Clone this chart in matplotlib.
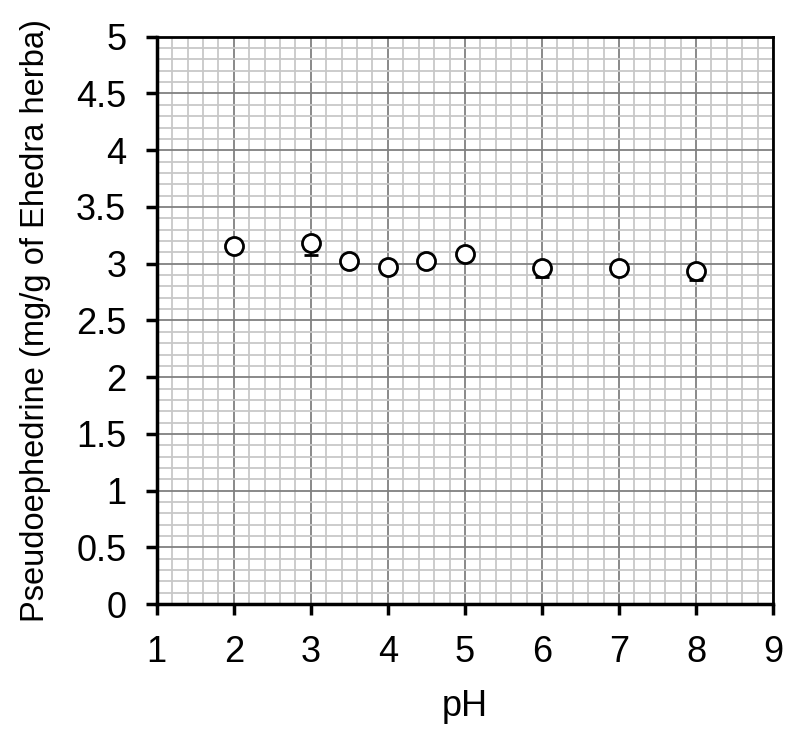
import matplotlib
matplotlib.use('Agg')
import matplotlib.pyplot as plt
from matplotlib.ticker import MultipleLocator

# Data
ph = [2, 3, 3.5, 4, 4.5, 5, 6, 7, 8]
pseudo = [3.16, 3.18, 3.02, 2.97, 3.02, 3.09, 2.96, 2.96, 2.94]
err_low = [0.03, 0.10, 0.05, 0.03, 0.05, 0.06, 0.08, 0.03, 0.08]
err_high = [0, 0, 0, 0, 0, 0, 0, 0, 0]

yticks = [0, 0.5, 1, 1.5, 2, 2.5, 3, 3.5, 4, 4.5, 5]
ytick_labels = ['0', '0.5', '1', '1.5', '2', '2.5', '3', '3.5', '4', '4.5', '5']

plt.rcParams['font.family'] = ['Liberation Sans', 'DejaVu Sans']

fig = plt.figure(figsize=(7.88, 7.35), dpi=100)
ax = fig.add_axes([0.199, 0.178, 0.782, 0.772])

ax.errorbar(ph, pseudo, yerr=[err_low, err_high], fmt='o', color='black',
            ecolor='black', elinewidth=1.5, capsize=5, capthick=2.5,
            markersize=13, markerfacecolor='white', markeredgecolor='black',
            markeredgewidth=2, zorder=5)

ax.set_xlim(1, 9)
ax.set_ylim(0, 5)
ax.xaxis.set_major_locator(MultipleLocator(1))
ax.xaxis.set_minor_locator(MultipleLocator(0.2))
ax.yaxis.set_minor_locator(MultipleLocator(0.1))
ax.set_yticks(yticks)
ax.set_yticklabels(ytick_labels)

ax.grid(True, which='minor', color='#c8c8c8', linewidth=1.3)
ax.grid(True, which='major', color='#808080', linewidth=1.3)
ax.set_axisbelow(True)

for side in ['left', 'bottom']:
    ax.spines[side].set_linewidth(2.5)
for side in ['top', 'right']:
    ax.spines[side].set_linewidth(2.0)

ax.tick_params(which='major', direction='out', length=8, width=2.5,
               labelsize=26, pad=14)
ax.tick_params(which='minor', length=0)

ax.set_xlabel('pH', fontsize=26, labelpad=14)
ax.set_ylabel('Pseudoephedrine (mg/g of Ehedra herba)', fontsize=23.5, labelpad=18)

plt.savefig('out.png', dpi=100)
